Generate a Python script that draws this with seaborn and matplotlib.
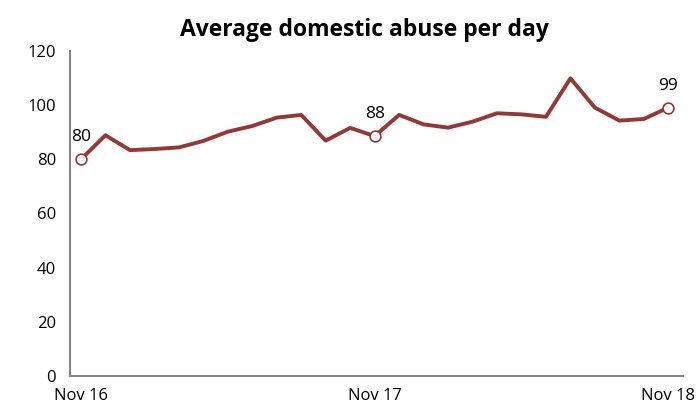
import seaborn as sns
import matplotlib.pyplot as plt
import pandas as pd

# monthly values, Nov 16 .. Nov 18
months = list(range(25))
abuse = [80.0, 88.9, 83.4, 83.8, 84.4, 86.8, 90.2, 92.3, 95.4, 96.4,
         86.9, 91.6, 88.6, 96.4, 92.9, 91.7, 93.9, 97.0, 96.6, 95.7,
         109.9, 99.1, 94.3, 94.9, 99.1]
tick_pos = [0, 12, 24]
tick_labels = ['Nov 16', 'Nov 17', 'Nov 18']
label_idx = [0, 12, 24]
label_text = ['80', '88', '99']

df = pd.DataFrame({'month': months, 'abuse': abuse})

sns.set_theme(style="white")
plt.rcParams['font.family'] = ['Open Sans', 'DejaVu Sans']
plt.rcParams['text.color'] = 'black'
plt.rcParams['xtick.color'] = 'black'
plt.rcParams['ytick.color'] = 'black'

red = '#953735'
grey = '#868686'

fig = plt.figure(figsize=(6.99, 4.07), dpi=100)
ax = fig.add_axes([0.1001, 0.0762, 0.877, 0.7985])

sns.lineplot(x='month', y='abuse', data=df, color=red, linewidth=2.8, ax=ax)
sel = df.iloc[label_idx]
ax.scatter(sel['month'], sel['abuse'], s=60, facecolor='white', edgecolor=red,
           linewidth=1.2, zorder=3)
for i, t in zip(label_idx, label_text):
    ax.annotate(t, (months[i], abuse[i]), xytext=(0, 10), textcoords='offset points',
                ha='center', va='bottom', fontsize=12.5)

ax.set_xlim(-0.45, 24.6)
ax.set_ylim(0, 120)
ax.set_yticks(range(0, 121, 20))
ax.set_xticks(tick_pos)
ax.set_xticklabels(tick_labels)
ax.set_xlabel('')
ax.set_ylabel('')
ax.tick_params(axis='y', length=5, color=grey, labelsize=12, pad=5)
ax.tick_params(axis='x', length=0, labelsize=12, pad=9)
ax.tick_params(axis='y', colors='black')
ax.yaxis.set_tick_params(color=grey)

for s in ['top', 'right']:
    ax.spines[s].set_visible(False)
for s in ['left', 'bottom']:
    ax.spines[s].set_color(grey)
    ax.spines[s].set_linewidth(1.5)

fig.suptitle('Average domestic abuse per day', x=0.522, y=0.955, fontsize=16.5,
             fontweight='bold', color='black')

fig.savefig('out.png', dpi=100)
